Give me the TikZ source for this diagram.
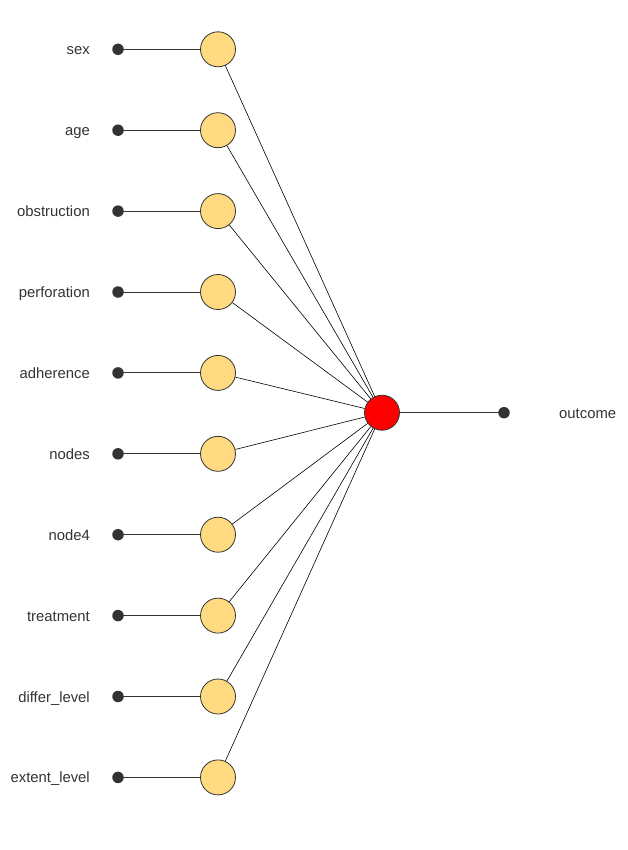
\documentclass[tikz,border=0pt]{standalone}
\usepackage{fontspec}
\setmainfont{Liberation Sans}
\definecolor{hid}{HTML}{FFDA80}
\definecolor{edge}{HTML}{333333}
\definecolor{txt}{HTML}{333333}
\begin{document}
\begin{tikzpicture}[x=1bp,y=-1bp,
  inp/.style={circle,draw=edge,fill=hid,line width=0.8bp,minimum size=35bp,inner sep=0pt},
  outn/.style={circle,draw=edge,fill=red,line width=0.8bp,minimum size=35bp,inner sep=0pt},
  dotn/.style={circle,fill=edge,minimum size=11.5bp,inner sep=0pt},
  lab/.style={text=txt,font=\fontsize{14.9}{16}\selectfont,inner sep=0pt},
  conn/.style={draw=black,line width=0.6bp}]
\useasboundingbox (0,0) rectangle (628,850);
\foreach \n/\t [count=\i from 0] in {a/sex,b/age,c/obstruction,d/perforation,e/adherence,f/nodes,g/node4,h/treatment,k/differ\_level,l/extent\_level}{
  \pgfmathsetmacro{\yy}{49.3+80.9*\i}
  \node[lab,anchor=base east] (t\n) at (90,\yy+5.5) {\t};
  \node[dotn] (d\n) at (118,\yy) {};
  \node[inp] (c\n) at (218,\yy) {};
}
\node[outn] (o) at (382,412.7) {};
\node[dotn] (od) at (504,412.7) {};
\node[lab,anchor=base west] (ot) at (559,418.3) {outcome};
\begin{scope}[on background layer/.try]
\foreach \n in {a,b,c,d,e,f,g,h,k,l}{
  \draw[conn,draw=edge,line width=0.9bp] (d\n.center) -- (c\n);
  \draw[conn] (c\n) -- (o);
}
\draw[conn,draw=edge,line width=0.9bp] (o) -- (od.center);
\end{scope}
\end{tikzpicture}
\end{document}
